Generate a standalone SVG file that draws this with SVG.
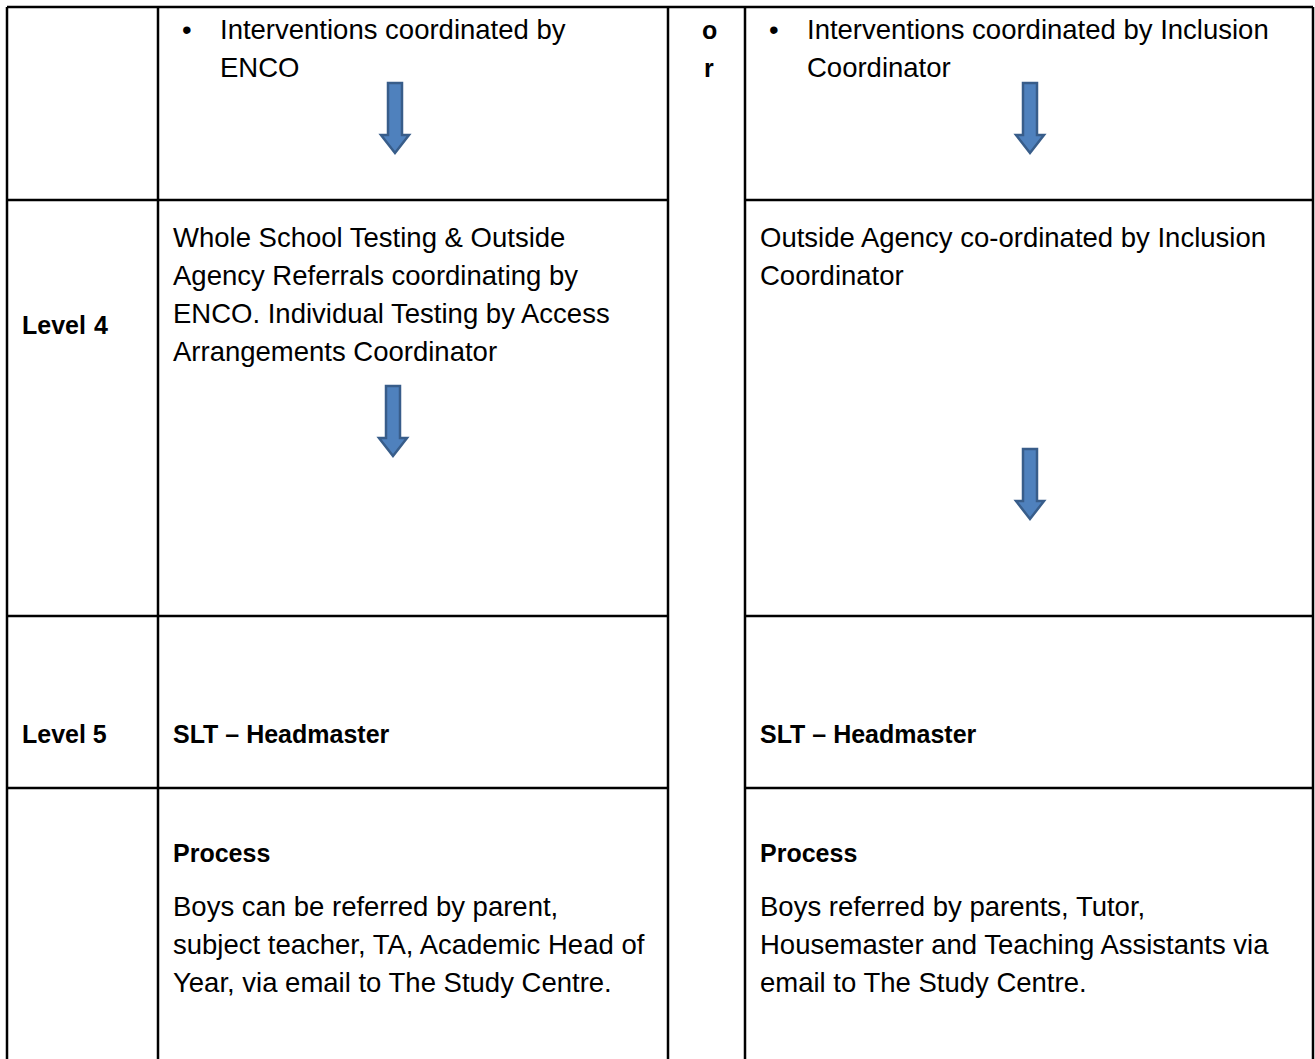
<svg xmlns="http://www.w3.org/2000/svg" xmlns:xlink="http://www.w3.org/1999/xlink" width="1315" height="1059" viewBox="0 0 1315 1059">
<style>
  .grid { stroke: #000; stroke-width: 2.5; fill: none; }
  .t { font-family: "Liberation Sans", Arial, sans-serif; font-size: 27.5px; fill: #000; }
  .b { font-weight: bold; font-size: 25px; }
  .arr { fill: #4F81BD; stroke: #385D8A; stroke-width: 2.5; stroke-linejoin: miter; }
</style>
<defs>
  <path id="downArrow" class="arr" d="M -7 0 H 7 V 52 H 14 L 0 70 L -14 52 H -7 Z"/>
</defs>
<rect width="1315" height="1059" fill="#fff"/>
<g id="grid">
  <line class="grid" x1="7" y1="7" x2="1313" y2="7"/>
  <line class="grid" x1="7" y1="7" x2="7" y2="1059"/>
  <line class="grid" x1="158" y1="7" x2="158" y2="1059"/>
  <line class="grid" x1="668" y1="7" x2="668" y2="1059"/>
  <line class="grid" x1="745" y1="7" x2="745" y2="1059"/>
  <line class="grid" x1="1313" y1="7" x2="1313" y2="1059"/>
  <line class="grid" x1="7" y1="200" x2="668" y2="200"/>
  <line class="grid" x1="745" y1="200" x2="1313" y2="200"/>
  <line class="grid" x1="7" y1="616" x2="668" y2="616"/>
  <line class="grid" x1="745" y1="616" x2="1313" y2="616"/>
  <line class="grid" x1="7" y1="788" x2="668" y2="788"/>
  <line class="grid" x1="745" y1="788" x2="1313" y2="788"/>
</g>
<g id="r1-left">
  <text class="t" x="182" y="39">•</text>
  <text class="t" x="220" y="39">Interventions coordinated by</text>
  <text class="t" x="220" y="77">ENCO</text>
</g>
<g id="or-col">
  <text class="t b" x="702" y="39">o</text>
  <text class="t b" x="704" y="77">r</text>
</g>
<g id="r1-right">
  <text class="t" x="769" y="39">•</text>
  <text class="t" x="807" y="39">Interventions coordinated by Inclusion</text>
  <text class="t" x="807" y="77">Coordinator</text>
</g>
<g id="level4">
  <text class="t b" x="22" y="334">Level <tspan x="94">4</tspan></text>
</g>
<g id="r2-left">
  <text class="t" x="173" y="247">Whole School Testing &amp; Outside</text>
  <text class="t" x="173" y="285">Agency Referrals coordinating by</text>
  <text class="t" x="173" y="323">ENCO. Individual Testing by Access</text>
  <text class="t" x="173" y="361">Arrangements Coordinator</text>
</g>
<g id="r2-right">
  <text class="t" x="760" y="247">Outside Agency co-ordinated by Inclusion</text>
  <text class="t" x="760" y="285">Coordinator</text>
</g>
<g id="level5">
  <text class="t b" x="22" y="743">Level 5</text>
</g>
<g id="r3-left">
  <text class="t b" x="173" y="743">SLT – Headmaster</text>
</g>
<g id="r3-right">
  <text class="t b" x="760" y="743">SLT – Headmaster</text>
</g>
<g id="r4-left">
  <text class="t b" x="173" y="862">Process</text>
  <text class="t" x="173" y="916">Boys can be referred by parent,</text>
  <text class="t" x="173" y="954">subject teacher, TA, Academic Head of</text>
  <text class="t" x="173" y="992">Year, via email to The Study Centre.</text>
</g>
<g id="r4-right">
  <text class="t b" x="760" y="862">Process</text>
  <text class="t" x="760" y="916">Boys referred by parents, Tutor,</text>
  <text class="t" x="760" y="954">Housemaster and Teaching Assistants via</text>
  <text class="t" x="760" y="992">email to The Study Centre.</text>
</g>
<g id="connectors">
  <use xlink:href="#downArrow" transform="translate(395,83)"/>
  <use xlink:href="#downArrow" transform="translate(1030,83)"/>
  <use xlink:href="#downArrow" transform="translate(393,386)"/>
  <use xlink:href="#downArrow" transform="translate(1030,449)"/>
</g>
</svg>
